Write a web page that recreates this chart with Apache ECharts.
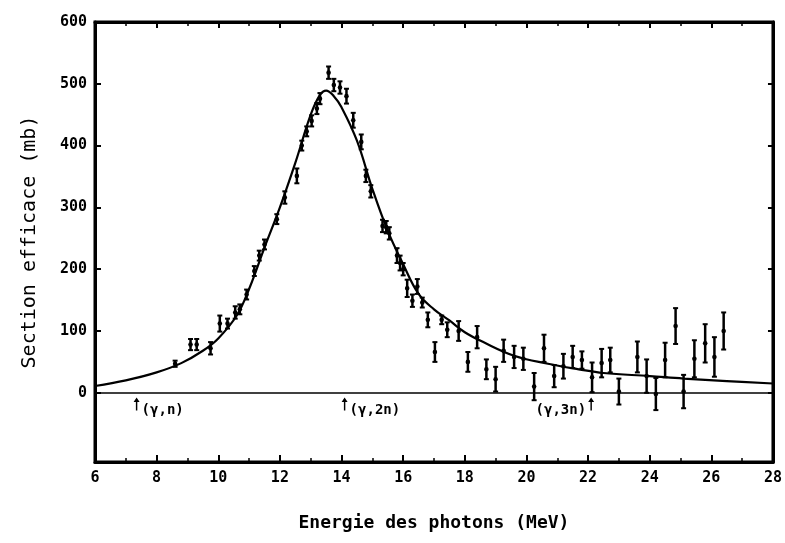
<!DOCTYPE html>
<html>
<head>
<meta charset="utf-8">
<script src="https://cdn.jsdelivr.net/npm/echarts@6/dist/echarts.min.js"></script>
<style>
  html, body { margin: 0; padding: 0; background: #fff; }
  #chart { width: 785px; height: 543px; }
</style>
</head>
<body>
<div id="chart"></div>
<script>
// fitted curve
var curveX = [6.0, 7.0, 8.0, 8.8, 9.5, 10.0, 10.6, 11.0, 11.5, 12.0, 12.5, 13.0, 13.3, 13.5, 13.75, 14.0, 14.5, 15.0, 15.5, 16.0, 16.5, 17.0, 17.5, 18.0, 18.6, 19.6, 20.7, 21.7, 22.5, 24.0, 25.1, 26.5, 28.0]
var curveY = [11, 20, 33, 48, 68, 88, 125, 168, 235, 300, 372, 450, 482, 489, 480, 462, 408, 330, 262, 208, 160, 135, 117, 98, 82, 60, 47, 38, 32, 27, 23, 19, 15]

// measured points: energy, cross section, error
var ptX = [8.6, 9.1, 9.3, 9.75, 10.05, 10.3, 10.55, 10.7, 10.92, 11.17, 11.33, 11.5, 11.9, 12.16, 12.55, 12.71, 12.87, 13.03, 13.2, 13.3,
  13.58, 13.75, 13.95, 14.16, 14.38, 14.64, 14.79, 14.95, 15.33, 15.45, 15.55, 15.8, 15.9, 16.0, 16.13, 16.3, 16.46, 16.62, 16.8, 17.03,
  17.25, 17.43, 17.8, 18.1, 18.4, 18.7, 19.0, 19.26, 19.6, 19.9, 20.25, 20.57, 20.9, 21.2, 21.5, 21.8, 22.13, 22.44, 22.72, 23.0,
  23.6, 23.9, 24.2, 24.5, 24.84, 25.1, 25.45, 25.8, 26.1, 26.4]
var ptY = [47, 78, 78, 72, 112, 112, 130, 135, 159, 197, 222, 240, 281, 316, 351, 400, 423, 440, 460, 476,
  518, 498, 494, 480, 441, 406, 351, 326, 270, 268, 258, 222, 210, 200, 169, 149, 172, 146, 118, 66,
  118, 102, 100, 50, 90, 38, 22, 68, 58, 55, 10, 72, 27, 43, 58, 53, 25, 48, 53, 2,
  58, 27, -2, 53, 108, 2, 55, 80, 58, 100]
var ptErr = [5, 9, 9, 10, 13, 8, 10, 8, 8, 8, 8, 8, 8, 10, 12, 8, 8, 9, 9, 9,
  10, 10, 10, 12, 12, 12, 10, 10, 10, 10, 10, 12, 12, 10, 14, 10, 12, 8, 12, 16,
  7, 12, 16, 16, 18, 16, 20, 18, 18, 18, 22, 22, 18, 20, 18, 14, 24, 23, 20, 21,
  25, 27, 26, 28, 29, 27, 30, 31, 32, 30]

// reaction thresholds
var thrX = [7.35, 14.1, 22.1]
var thrLabels = ['(γ,n)', '(γ,2n)', '(γ,3n)']

var yTicks = [0, 100, 200, 300, 400, 500, 600]

var chart = echarts.init(document.getElementById('chart'))

var pts = []
for (var i = 0; i < ptX.length; i++) {
  pts.push([ptX[i], ptY[i], ptErr[i]])
}
var curve = []
for (var j = 0; j < curveX.length; j++) {
  curve.push([curveX[j], curveY[j]])
}
var thr = []
for (var k = 0; k < thrX.length; k++) {
  thr.push({
    name: thrLabels[k],
    value: [thrX[k], -18],
    label: { position: k === 2 ? 'left' : 'right' }
  })
}

var monoBold = { fontFamily: 'DejaVu Sans Mono', fontWeight: 'bold', color: '#000' }

chart.setOption({
  animation: false,
  backgroundColor: '#fff',
  grid: {
    left: 95,
    right: 10,
    top: 22,
    bottom: 81,
    show: true,
    borderColor: '#000',
    borderWidth: 3
  },
  xAxis: [{
    type: 'value',
    min: 6,
    max: 28,
    interval: 2,
    name: 'Energie des photons (MeV)',
    nameLocation: 'middle',
    nameGap: 52,
    nameTextStyle: { fontFamily: 'DejaVu Sans Mono', fontWeight: 'bold', fontSize: 18, color: '#000' },
    axisLine: { onZero: false, lineStyle: { color: '#000', width: 3 } },
    axisTick: { inside: true, length: 7, lineStyle: { color: '#000', width: 2 } },
    minorTick: { show: true, splitNumber: 2, length: 4, lineStyle: { color: '#000', width: 1.5 } },
    axisLabel: Object.assign({ fontSize: 15, margin: 9 }, monoBold),
    splitLine: { show: false }
  }, {
    type: 'value',
    position: 'top',
    min: 6,
    max: 28,
    interval: 2,
    axisLine: { onZero: false, lineStyle: { color: '#000', width: 3 } },
    axisTick: { inside: true, length: 6, lineStyle: { color: '#000', width: 2 } },
    minorTick: { show: true, splitNumber: 2, length: 4, lineStyle: { color: '#000', width: 1.5 } },
    axisLabel: { show: false },
    splitLine: { show: false }
  }],
  yAxis: [{
    type: 'value',
    min: -112,
    max: 600,
    name: 'Section efficace (mb)',
    nameLocation: 'middle',
    nameGap: 55,
    nameRotate: 90,
    nameTextStyle: { fontFamily: 'DejaVu Sans Mono', fontSize: 20, color: '#000' },
    axisLine: { onZero: false, lineStyle: { color: '#000', width: 3 } },
    axisTick: { inside: true, length: 6, customValues: yTicks, lineStyle: { color: '#000', width: 2 } },
    axisLabel: Object.assign({ fontSize: 15, margin: 8, customValues: yTicks }, monoBold),
    splitLine: { show: false }
  }, {
    type: 'value',
    position: 'right',
    min: -112,
    max: 600,
    axisLine: { onZero: false, lineStyle: { color: '#000', width: 3 } },
    axisTick: { inside: true, length: 5, customValues: yTicks, lineStyle: { color: '#000', width: 2 } },
    axisLabel: { show: false, customValues: yTicks },
    splitLine: { show: false }
  }],
  series: [{
    name: 'curve',
    type: 'line',
    data: curve,
    smooth: 0.4,
    showSymbol: false,
    lineStyle: { color: '#000', width: 2.2 },
    silent: true,
    z: 3,
    markLine: {
      silent: true,
      symbol: 'none',
      label: { show: false },
      lineStyle: { color: '#000', width: 1.5, type: 'solid' },
      data: [{ yAxis: 0 }]
    }
  },
  {
    name: 'points',
    type: 'custom',
    data: pts,
    z: 4,
    renderItem: function (params, api) {
      var x = api.value(0)
      var y = api.value(1)
      var e = api.value(2)
      var top = api.coord([x, y + e])
      var bot = api.coord([x, y - e])
      var mid = api.coord([x, y])
      var st = { stroke: '#000', lineWidth: 2.5 }
      return {
        type: 'group',
        children: [
          { type: 'line', shape: { x1: top[0], y1: top[1], x2: bot[0], y2: bot[1] }, style: st },
          { type: 'line', shape: { x1: top[0] - 2.5, y1: top[1], x2: top[0] + 2.5, y2: top[1] }, style: { stroke: '#000', lineWidth: 2 } },
          { type: 'line', shape: { x1: bot[0] - 2.5, y1: bot[1], x2: bot[0] + 2.5, y2: bot[1] }, style: { stroke: '#000', lineWidth: 2 } },
          { type: 'circle', shape: { cx: mid[0], cy: mid[1], r: 2.3 }, style: { fill: '#000' } }
        ]
      }
    }
  },
  {
    name: 'thresholds',
    type: 'scatter',
    data: thr,
    symbol: 'path://M5,0 L10,7 L6.2,7 L6.2,20 L3.8,20 L3.8,7 L0,7 Z',
    symbolSize: [6, 13],
    itemStyle: { color: '#000', opacity: 1 },
    silent: true,
    label: {
      show: true,
      formatter: '{b}',
      distance: 2,
      offset: [0, 6],
      fontFamily: 'DejaVu Sans Mono',
      fontWeight: 'bold',
      fontSize: 14,
      color: '#000',
      opacity: 1
    }
  }]
})
</script>
</body>
</html>
